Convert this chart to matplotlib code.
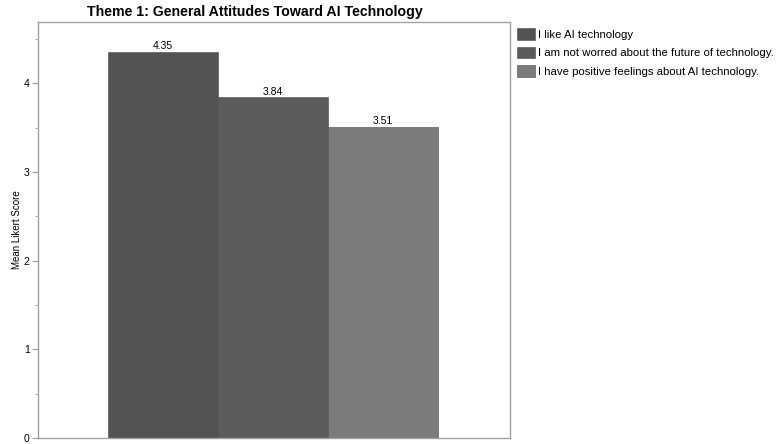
import numpy as np
import matplotlib.pyplot as plt

plt.rcParams['font.family'] = ['Liberation Sans', 'DejaVu Sans']

# ── Data ─────────────────────────────────────────────────────────
items = [
    "I like AI technology",
    "I am not worred about the future of technology.",
    "I have positive feelings about AI technology.",
]
means = [4.35, 3.84, 3.51]
colors = ["#525252", "#5c5c5c", "#7b7b7b"]

# ── Plot ─────────────────────────────────────────────────────────
fig = plt.figure(figsize=(7.77, 4.44), dpi=100)
ax = fig.add_axes([38 / 777, 6 / 444, 472 / 777, 416 / 444])

x = np.arange(len(items))
bars = ax.bar(x, means, width=1.0, color=colors, edgecolor="#4a4a4a",
              linewidth=0.4, label=items)

for bar, val in zip(bars, means):
    ax.text(bar.get_x() + bar.get_width() / 2, val + 0.01, f"{val:.2f}",
            ha="center", va="bottom", fontsize=7.5)

ax.set_xlim(-1.136, 3.155)
ax.set_ylim(0, 4.69)
ax.set_xticks([])
ax.set_yticks([0, 1, 2, 3, 4])
ax.set_yticks(np.arange(0.5, 4.6, 1.0), minor=True)
ax.tick_params(axis='y', which='major', labelsize=7.5, length=4,
               color="#999999", pad=2)
ax.tick_params(axis='y', which='minor', length=2.5, color="#999999")
for s in ax.spines.values():
    s.set_color("#a0a0a0")
    s.set_linewidth(1.0)

ax.set_ylabel("Mean Likert Score", fontsize=7, labelpad=1)
fig.suptitle("Theme 1: General Attitudes Toward AI Technology",
             x=255 / 777, y=1 - 5 / 444, va="top",
             fontsize=10.2, fontweight="bold")

ax.legend(loc="upper left", bbox_to_anchor=(1.0, 1.001), frameon=False,
          fontsize=8.2, handlelength=1.6, handleheight=1.2,
          handletextpad=0.25, labelspacing=0.58, borderaxespad=0.2)

fig.savefig("out.png", dpi=100)
